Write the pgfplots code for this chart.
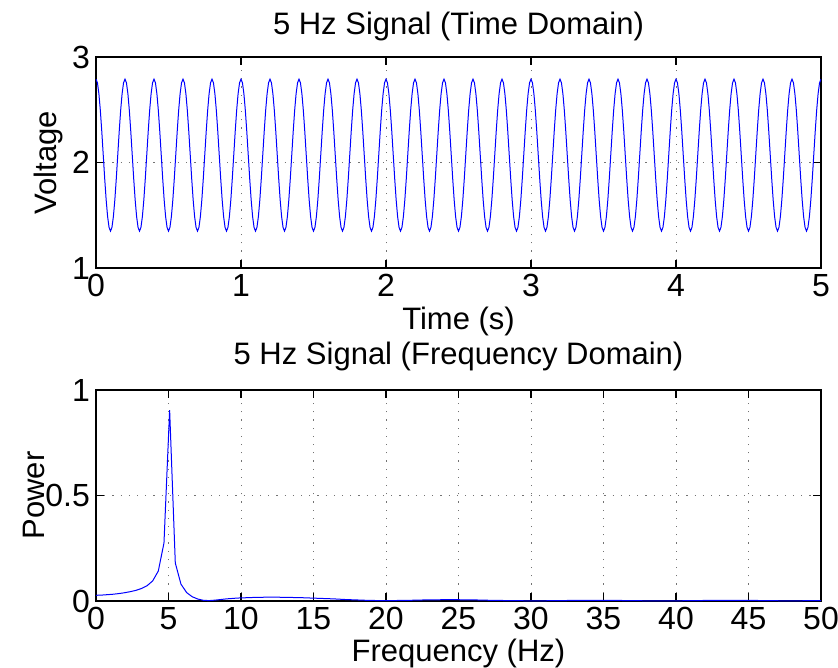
\documentclass[border=0pt]{standalone}
\usepackage{fontspec}
\setmainfont{Liberation Sans}
\usepackage{pgfplots}
\pgfplotsset{compat=1.18}
\begin{document}
\fontsize{31}{36}\selectfont
\begin{tikzpicture}
\useasboundingbox (-96pt,-400pt) rectangle (742pt,268pt);
\pgfplotsset{every axis/.append style={
  scale only axis, width=725pt, height=211pt,
  font=\fontsize{31}{36}\selectfont,
  tick label style={font=\fontsize{32}{36}\selectfont},
  xticklabel style={inner sep=3pt, yshift=-3pt},
  yticklabel style={inner sep=3pt, xshift=-3pt},
  /pgf/number format/assume math mode=true,
  grid=major,
  major grid style={black!55, line width=0.9pt, dash pattern=on 1.2pt off 7pt},
  axis line style={line width=1.3pt, black},
  tick style={line width=1.2pt, black},
  major tick length=8pt,
  tick align=inside,
}}
% Top: time domain
\begin{axis}[
  at={(0pt,0pt)}, anchor=south west,
  xmin=0, xmax=5, ymin=1, ymax=3,
  xtick={0,1,2,3,4,5}, ytick={1,2,3},
  title={5 Hz Signal (Time Domain)},
  title style={at={(axis description cs:0.5,1.115)}, anchor=center},
  xlabel={Time (s)},
  xlabel style={at={(axis description cs:0.5,-0.255)}, anchor=center},
  ylabel={Voltage},
  ylabel style={at={(axis description cs:-0.066,0.5)}, anchor=center},
]
\addplot[blue, line width=1pt] coordinates {
(0.00,2.79)(0.01,2.755)(0.02,2.652)(0.03,2.493)(0.04,2.292)(0.05,2.07)(0.06,1.848)(0.07,1.647)(0.08,1.488)(0.09,1.385)(0.10,1.35)(0.11,1.385)(0.12,1.488)(0.13,1.647)(0.14,1.848)(0.15,2.07)(0.16,2.292)(0.17,2.493)(0.18,2.652)(0.19,2.755)
(0.20,2.79)(0.21,2.755)(0.22,2.652)(0.23,2.493)(0.24,2.292)(0.25,2.07)(0.26,1.848)(0.27,1.647)(0.28,1.488)(0.29,1.385)(0.30,1.35)(0.31,1.385)(0.32,1.488)(0.33,1.647)(0.34,1.848)(0.35,2.07)(0.36,2.292)(0.37,2.493)(0.38,2.652)(0.39,2.755)
(0.40,2.79)(0.41,2.755)(0.42,2.652)(0.43,2.493)(0.44,2.292)(0.45,2.07)(0.46,1.848)(0.47,1.647)(0.48,1.488)(0.49,1.385)(0.50,1.35)(0.51,1.385)(0.52,1.488)(0.53,1.647)(0.54,1.848)(0.55,2.07)(0.56,2.292)(0.57,2.493)(0.58,2.652)(0.59,2.755)
(0.60,2.79)(0.61,2.755)(0.62,2.652)(0.63,2.493)(0.64,2.292)(0.65,2.07)(0.66,1.848)(0.67,1.647)(0.68,1.488)(0.69,1.385)(0.70,1.35)(0.71,1.385)(0.72,1.488)(0.73,1.647)(0.74,1.848)(0.75,2.07)(0.76,2.292)(0.77,2.493)(0.78,2.652)(0.79,2.755)
(0.80,2.79)(0.81,2.755)(0.82,2.652)(0.83,2.493)(0.84,2.292)(0.85,2.07)(0.86,1.848)(0.87,1.647)(0.88,1.488)(0.89,1.385)(0.90,1.35)(0.91,1.385)(0.92,1.488)(0.93,1.647)(0.94,1.848)(0.95,2.07)(0.96,2.292)(0.97,2.493)(0.98,2.652)(0.99,2.755)
(1.00,2.79)(1.01,2.755)(1.02,2.652)(1.03,2.493)(1.04,2.292)(1.05,2.07)(1.06,1.848)(1.07,1.647)(1.08,1.488)(1.09,1.385)(1.10,1.35)(1.11,1.385)(1.12,1.488)(1.13,1.647)(1.14,1.848)(1.15,2.07)(1.16,2.292)(1.17,2.493)(1.18,2.652)(1.19,2.755)
(1.20,2.79)(1.21,2.755)(1.22,2.652)(1.23,2.493)(1.24,2.292)(1.25,2.07)(1.26,1.848)(1.27,1.647)(1.28,1.488)(1.29,1.385)(1.30,1.35)(1.31,1.385)(1.32,1.488)(1.33,1.647)(1.34,1.848)(1.35,2.07)(1.36,2.292)(1.37,2.493)(1.38,2.652)(1.39,2.755)
(1.40,2.79)(1.41,2.755)(1.42,2.652)(1.43,2.493)(1.44,2.292)(1.45,2.07)(1.46,1.848)(1.47,1.647)(1.48,1.488)(1.49,1.385)(1.50,1.35)(1.51,1.385)(1.52,1.488)(1.53,1.647)(1.54,1.848)(1.55,2.07)(1.56,2.292)(1.57,2.493)(1.58,2.652)(1.59,2.755)
(1.60,2.79)(1.61,2.755)(1.62,2.652)(1.63,2.493)(1.64,2.292)(1.65,2.07)(1.66,1.848)(1.67,1.647)(1.68,1.488)(1.69,1.385)(1.70,1.35)(1.71,1.385)(1.72,1.488)(1.73,1.647)(1.74,1.848)(1.75,2.07)(1.76,2.292)(1.77,2.493)(1.78,2.652)(1.79,2.755)
(1.80,2.79)(1.81,2.755)(1.82,2.652)(1.83,2.493)(1.84,2.292)(1.85,2.07)(1.86,1.848)(1.87,1.647)(1.88,1.488)(1.89,1.385)(1.90,1.35)(1.91,1.385)(1.92,1.488)(1.93,1.647)(1.94,1.848)(1.95,2.07)(1.96,2.292)(1.97,2.493)(1.98,2.652)(1.99,2.755)
(2.00,2.79)(2.01,2.755)(2.02,2.652)(2.03,2.493)(2.04,2.292)(2.05,2.07)(2.06,1.848)(2.07,1.647)(2.08,1.488)(2.09,1.385)(2.10,1.35)(2.11,1.385)(2.12,1.488)(2.13,1.647)(2.14,1.848)(2.15,2.07)(2.16,2.292)(2.17,2.493)(2.18,2.652)(2.19,2.755)
(2.20,2.79)(2.21,2.755)(2.22,2.652)(2.23,2.493)(2.24,2.292)(2.25,2.07)(2.26,1.848)(2.27,1.647)(2.28,1.488)(2.29,1.385)(2.30,1.35)(2.31,1.385)(2.32,1.488)(2.33,1.647)(2.34,1.848)(2.35,2.07)(2.36,2.292)(2.37,2.493)(2.38,2.652)(2.39,2.755)
(2.40,2.79)(2.41,2.755)(2.42,2.652)(2.43,2.493)(2.44,2.292)(2.45,2.07)(2.46,1.848)(2.47,1.647)(2.48,1.488)(2.49,1.385)(2.50,1.35)(2.51,1.385)(2.52,1.488)(2.53,1.647)(2.54,1.848)(2.55,2.07)(2.56,2.292)(2.57,2.493)(2.58,2.652)(2.59,2.755)
(2.60,2.79)(2.61,2.755)(2.62,2.652)(2.63,2.493)(2.64,2.292)(2.65,2.07)(2.66,1.848)(2.67,1.647)(2.68,1.488)(2.69,1.385)(2.70,1.35)(2.71,1.385)(2.72,1.488)(2.73,1.647)(2.74,1.848)(2.75,2.07)(2.76,2.292)(2.77,2.493)(2.78,2.652)(2.79,2.755)
(2.80,2.79)(2.81,2.755)(2.82,2.652)(2.83,2.493)(2.84,2.292)(2.85,2.07)(2.86,1.848)(2.87,1.647)(2.88,1.488)(2.89,1.385)(2.90,1.35)(2.91,1.385)(2.92,1.488)(2.93,1.647)(2.94,1.848)(2.95,2.07)(2.96,2.292)(2.97,2.493)(2.98,2.652)(2.99,2.755)
(3.00,2.79)(3.01,2.755)(3.02,2.652)(3.03,2.493)(3.04,2.292)(3.05,2.07)(3.06,1.848)(3.07,1.647)(3.08,1.488)(3.09,1.385)(3.10,1.35)(3.11,1.385)(3.12,1.488)(3.13,1.647)(3.14,1.848)(3.15,2.07)(3.16,2.292)(3.17,2.493)(3.18,2.652)(3.19,2.755)
(3.20,2.79)(3.21,2.755)(3.22,2.652)(3.23,2.493)(3.24,2.292)(3.25,2.07)(3.26,1.848)(3.27,1.647)(3.28,1.488)(3.29,1.385)(3.30,1.35)(3.31,1.385)(3.32,1.488)(3.33,1.647)(3.34,1.848)(3.35,2.07)(3.36,2.292)(3.37,2.493)(3.38,2.652)(3.39,2.755)
(3.40,2.79)(3.41,2.755)(3.42,2.652)(3.43,2.493)(3.44,2.292)(3.45,2.07)(3.46,1.848)(3.47,1.647)(3.48,1.488)(3.49,1.385)(3.50,1.35)(3.51,1.385)(3.52,1.488)(3.53,1.647)(3.54,1.848)(3.55,2.07)(3.56,2.292)(3.57,2.493)(3.58,2.652)(3.59,2.755)
(3.60,2.79)(3.61,2.755)(3.62,2.652)(3.63,2.493)(3.64,2.292)(3.65,2.07)(3.66,1.848)(3.67,1.647)(3.68,1.488)(3.69,1.385)(3.70,1.35)(3.71,1.385)(3.72,1.488)(3.73,1.647)(3.74,1.848)(3.75,2.07)(3.76,2.292)(3.77,2.493)(3.78,2.652)(3.79,2.755)
(3.80,2.79)(3.81,2.755)(3.82,2.652)(3.83,2.493)(3.84,2.292)(3.85,2.07)(3.86,1.848)(3.87,1.647)(3.88,1.488)(3.89,1.385)(3.90,1.35)(3.91,1.385)(3.92,1.488)(3.93,1.647)(3.94,1.848)(3.95,2.07)(3.96,2.292)(3.97,2.493)(3.98,2.652)(3.99,2.755)
(4.00,2.79)(4.01,2.755)(4.02,2.652)(4.03,2.493)(4.04,2.292)(4.05,2.07)(4.06,1.848)(4.07,1.647)(4.08,1.488)(4.09,1.385)(4.10,1.35)(4.11,1.385)(4.12,1.488)(4.13,1.647)(4.14,1.848)(4.15,2.07)(4.16,2.292)(4.17,2.493)(4.18,2.652)(4.19,2.755)
(4.20,2.79)(4.21,2.755)(4.22,2.652)(4.23,2.493)(4.24,2.292)(4.25,2.07)(4.26,1.848)(4.27,1.647)(4.28,1.488)(4.29,1.385)(4.30,1.35)(4.31,1.385)(4.32,1.488)(4.33,1.647)(4.34,1.848)(4.35,2.07)(4.36,2.292)(4.37,2.493)(4.38,2.652)(4.39,2.755)
(4.40,2.79)(4.41,2.755)(4.42,2.652)(4.43,2.493)(4.44,2.292)(4.45,2.07)(4.46,1.848)(4.47,1.647)(4.48,1.488)(4.49,1.385)(4.50,1.35)(4.51,1.385)(4.52,1.488)(4.53,1.647)(4.54,1.848)(4.55,2.07)(4.56,2.292)(4.57,2.493)(4.58,2.652)(4.59,2.755)
(4.60,2.79)(4.61,2.755)(4.62,2.652)(4.63,2.493)(4.64,2.292)(4.65,2.07)(4.66,1.848)(4.67,1.647)(4.68,1.488)(4.69,1.385)(4.70,1.35)(4.71,1.385)(4.72,1.488)(4.73,1.647)(4.74,1.848)(4.75,2.07)(4.76,2.292)(4.77,2.493)(4.78,2.652)(4.79,2.755)
(4.80,2.79)(4.81,2.755)(4.82,2.652)(4.83,2.493)(4.84,2.292)(4.85,2.07)(4.86,1.848)(4.87,1.647)(4.88,1.488)(4.89,1.385)(4.90,1.35)(4.91,1.385)(4.92,1.488)(4.93,1.647)(4.94,1.848)(4.95,2.07)(4.96,2.292)(4.97,2.493)(4.98,2.652)(4.99,2.755)
(5.00,2.79)
};
\end{axis}
% Bottom: frequency domain
\begin{axis}[
  at={(0pt,-333pt)}, anchor=south west,
  xmin=0, xmax=50, ymin=0, ymax=1,
  xtick={0,5,...,50}, ytick={0,0.5,1},
  title={5 Hz Signal (Frequency Domain)},
  title style={at={(axis description cs:0.5,1.13)}, anchor=center},
  xlabel={Frequency (Hz)},
  xlabel style={at={(axis description cs:0.5,-0.25)}, anchor=center},
  ylabel={Power},
  ylabel style={at={(axis description cs:-0.086,0.5)}, anchor=center},
]
\addplot[blue, line width=1pt] coordinates {
(0,0.027)(0.391,0.028)(0.781,0.030)(1.172,0.032)(1.563,0.035)(1.953,0.039)(2.344,0.044)(2.734,0.050)(3.125,0.059)(3.516,0.072)(3.906,0.095)(4.297,0.142)(4.688,0.275)(5.078,0.905)(5.469,0.180)(5.859,0.080)(6.250,0.040)(6.641,0.020)(7.031,0.009)(7.422,0.003)(7.813,0.002)(8.203,0.004)(8.594,0.007)(8.984,0.010)(9.375,0.012)(9.766,0.014)(10.156,0.015)(10.938,0.017)(11.719,0.018)(12.5,0.018)(13.281,0.017)(14.063,0.016)(14.844,0.014)(15.625,0.012)(16.406,0.010)(17.188,0.007)(17.969,0.005)(18.75,0.003)(19.531,0.002)(20.313,0.002)(21.484,0.003)(22.656,0.005)(23.828,0.006)(25.0,0.006)(26.172,0.005)(27.344,0.003)(28.516,0.002)(29.688,0.001)(30.859,0.001)(32.031,0.002)(33.203,0.003)(34.375,0.003)(35.547,0.003)(36.719,0.002)(37.891,0.001)(39.063,0.001)(40.234,0.001)(41.406,0.002)(42.578,0.003)(43.75,0.003)(44.922,0.003)(46.094,0.002)(47.266,0.001)(48.438,0.001)(50.0,0.002)
};
\end{axis}
\end{tikzpicture}
\end{document}
